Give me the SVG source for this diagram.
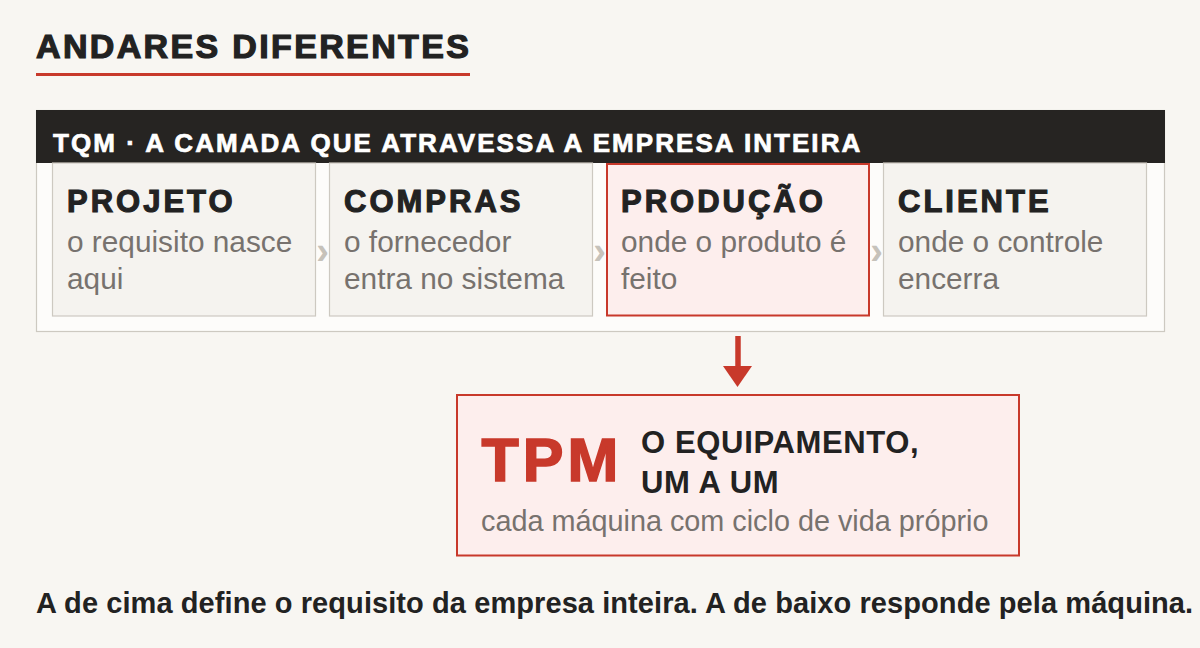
<svg xmlns="http://www.w3.org/2000/svg" width="1200" height="648" viewBox="0 0 1200 648">
<style>
.bold{font-family:"Liberation Sans",Arial,sans-serif;font-weight:bold}
.reg{font-family:"Liberation Sans",Arial,sans-serif}
.card{fill:#f5f3ef;stroke:#cdc9c1;stroke-width:1.2}
.cardhot{fill:#fdeeed;stroke:#c8392b;stroke-width:2}
.ct{font-size:31px;letter-spacing:3px;fill:#222;stroke:#222;stroke-width:1.1px}
.cs{font-size:29.8px;fill:#77726e}
.chev{font-size:38px;fill:#c6c2ba;text-anchor:middle}
</style>
<rect width="1200" height="648" fill="#f8f6f2"/>
<g id="title">
<text class="bold" x="36" y="57.7" font-size="34" letter-spacing="2.35" fill="#222" stroke="#222" stroke-width="1.2">ANDARES DIFERENTES</text>
<rect x="36" y="73" width="434" height="3" fill="#c8392b"/>
</g>
<g id="tqm">
<rect x="36.5" y="110.5" width="1128" height="221" fill="#fdfcfa" stroke="#cdc9c1" stroke-width="1.2"/>
<rect x="36" y="110" width="1129" height="53" fill="#262422"/>
<text class="bold" x="53" y="152.3" font-size="26" letter-spacing="2.05" fill="#ffffff" stroke="#ffffff" stroke-width="0.7">TQM · A CAMADA QUE ATRAVESSA A EMPRESA INTEIRA</text>
</g>
<g id="projeto">
<rect class="card" x="52.5" y="163" width="263" height="153"/>
<text class="bold ct" x="67" y="211.7">PROJETO</text>
<text class="reg cs" x="67" y="251.7">o requisito nasce</text>
<text class="reg cs" x="67" y="288.5">aqui</text>
</g>
<g id="compras">
<rect class="card" x="329.5" y="163" width="263" height="153"/>
<text class="bold ct" x="344" y="211.7">COMPRAS</text>
<text class="reg cs" x="344" y="251.7">o fornecedor</text>
<text class="reg cs" x="344" y="288.5">entra no sistema</text>
</g>
<g id="producao">
<rect class="cardhot" x="607" y="164" width="262" height="151.5"/>
<text class="bold ct" x="621" y="211.7">PRODUÇÃO</text>
<text class="reg cs" x="621" y="251.7">onde o produto é</text>
<text class="reg cs" x="621" y="288.5">feito</text>
</g>
<g id="cliente">
<rect class="card" x="883.5" y="163" width="263" height="153"/>
<text class="bold ct" x="898" y="211.7">CLIENTE</text>
<text class="reg cs" x="898" y="251.7">onde o controle</text>
<text class="reg cs" x="898" y="288.5">encerra</text>
</g>
<g id="connectors">
<text class="bold chev" x="322.5" y="263.5">›</text>
<text class="bold chev" x="599.5" y="263.5">›</text>
<text class="bold chev" x="876.5" y="263.5">›</text>
<line x1="738" y1="336" x2="738" y2="368" stroke="#c8392b" stroke-width="5.5"/>
<polygon points="723,366 752,366 737.5,387" fill="#c8392b"/>
</g>
<g id="tpm">
<rect x="457" y="395" width="562" height="160.5" fill="#fdeeed" stroke="#c8392b" stroke-width="2"/>
<text class="bold" x="481.5" y="481" font-size="61" letter-spacing="4" fill="#c8392b" stroke="#c8392b" stroke-width="1.6">TPM</text>
<text class="bold" x="641" y="453.3" font-size="31" letter-spacing="0.65" fill="#222">O EQUIPAMENTO,</text>
<text class="bold" x="641" y="492.5" font-size="31" letter-spacing="0.65" fill="#222">UM A UM</text>
<text class="reg" x="481" y="531" font-size="28.8" fill="#77726e">cada máquina com ciclo de vida próprio</text>
</g>
<g id="footer">
<text class="bold" x="36" y="613.3" font-size="29" letter-spacing="0.08" fill="#222">A de cima define o requisito da empresa inteira. A de baixo responde pela máquina.</text>
</g>
</svg>
